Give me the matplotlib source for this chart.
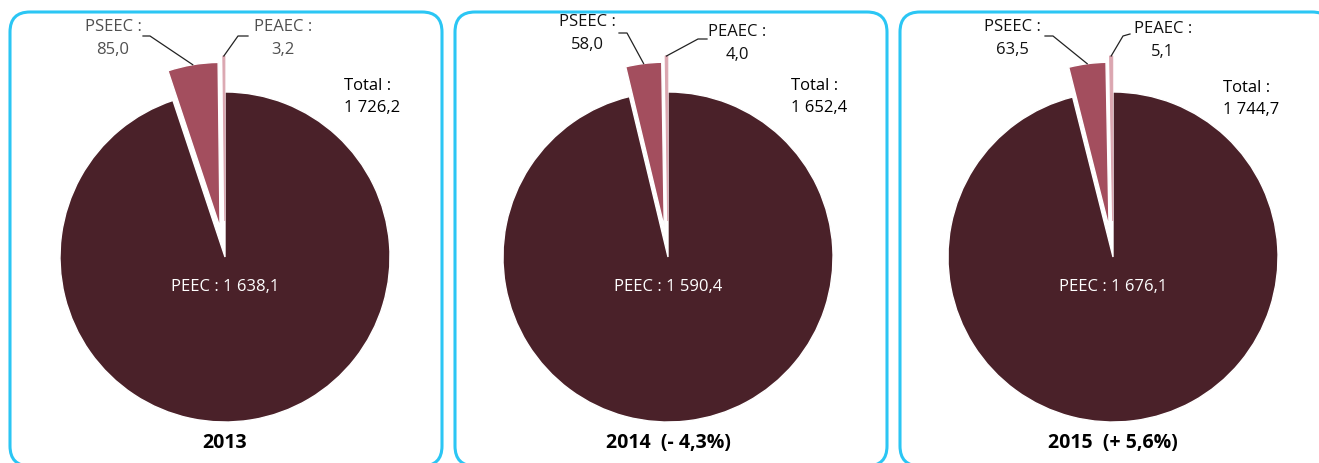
import numpy as np
import matplotlib
matplotlib.use("Agg")
import matplotlib.pyplot as plt
from matplotlib.patches import FancyBboxPatch

# Programme expenditure by year (millions)
years = ["2013", "2014", "2015"]
peec = [1638.1, 1590.4, 1676.1]
pseec = [85.0, 58.0, 63.5]
peaec = [3.2, 4.0, 5.1]
totals = [1726.2, 1652.4, 1744.7]
changes = [None, -4.3, 5.6]

colors = ["#4A2129", "#A34E5E", "#DBA6B0"]
border_color = "#2BC6F4"

W, H = 1319, 463
fig = plt.figure(figsize=(W / 100, H / 100), dpi=100)
ax = fig.add_axes([0, 0, 1, 1])


def Y(y):
    return H - y


def fr(v):
    return f"{v:,.1f}".replace(",", " ").replace(".", ",")


FONT = ["Open Sans", "DejaVu Sans"]
FS = 12
FW = "medium"

# layout of each panel: frame left/right, pie centre, label anchors
panels = [
    dict(x0=10, x1=442, cx=225, cy=257,
         ps_lab=(113, 27), pa_lab=(283, 27), tot=(344, 86),
         ps_knee=[(143, 36), (150, 36)], pa_knee=[(248, 36), (238, 36)],
         lab_color="#505050"),
    dict(x0=455, x1=887, cx=668, cy=257,
         ps_lab=(587, 22), pa_lab=(737, 32), tot=(791, 86),
         ps_knee=[(619, 33), (627, 33)], pa_knee=[(707, 39), (698, 39)],
         lab_color="#111111"),
    dict(x0=900, x1=1332, cx=1113, cy=257,
         ps_lab=(1012, 27), pa_lab=(1163, 29), tot=(1223, 88),
         ps_knee=[(1045, 36), (1053, 36)], pa_knee=[(1130, 34), (1123, 36)],
         lab_color="#111111"),
]

R = 165
for i, p in enumerate(panels):
    box = FancyBboxPatch((p["x0"], Y(466)), p["x1"] - p["x0"], 466 - 12,
                         boxstyle="round,pad=0,rounding_size=20",
                         facecolor="white", edgecolor=border_color,
                         linewidth=2.2, zorder=0)
    ax.add_patch(box)

    vals = [peec[i], pseec[i], peaec[i]]
    wedges, _ = ax.pie(vals, explode=[0, 30, 36], colors=colors,
                       startangle=90, counterclock=False,
                       center=(p["cx"], Y(p["cy"])), radius=R, frame=True,
                       wedgeprops=dict(edgecolor="white", linewidth=1.0))
    for w in wedges:
        w.set_zorder(2)
    # keep the thin slice visible
    wedges[2].set_edgecolor(colors[2])
    wedges[2].set_linewidth(0.8)
    wedges[2].set_zorder(2.5)

    # leader lines from the outer arc of the small slices to their labels
    for w, knee in ((wedges[1], p["ps_knee"]), (wedges[2], p["pa_knee"])):
        tm = np.deg2rad((w.theta1 + w.theta2) / 2)
        ex = w.center[0] + w.r * np.cos(tm)
        ey = w.center[1] + w.r * np.sin(tm)
        xs = [knee[0][0], knee[1][0], ex]
        ys = [Y(knee[0][1]), Y(knee[1][1]), ey]
        ax.plot(xs, ys, color="#222222", lw=0.9, zorder=3)

    lc = p["lab_color"]
    kw = dict(fontsize=FS, fontweight=FW, family=FONT, va="center")
    ax.text(p["ps_lab"][0], Y(p["ps_lab"][1]), "PSEEC :", ha="center",
            color=lc, **kw)
    ax.text(p["ps_lab"][0], Y(p["ps_lab"][1] + 23), fr(pseec[i]),
            ha="center", color=lc, **kw)
    ax.text(p["pa_lab"][0], Y(p["pa_lab"][1]), "PEAEC :", ha="center",
            color=lc, **kw)
    ax.text(p["pa_lab"][0], Y(p["pa_lab"][1] + 23), fr(peaec[i]),
            ha="center", color=lc, **kw)

    ax.text(p["tot"][0], Y(p["tot"][1]), "Total :", ha="left",
            color="black", **kw)
    ax.text(p["tot"][0], Y(p["tot"][1] + 22), fr(totals[i]), ha="left",
            color="black", **kw)

    ax.text(p["cx"], Y(p["cy"] + 30), f"PEEC : {fr(peec[i])}", ha="center",
            color="white", zorder=4, **kw)

    label = years[i]
    if changes[i] is not None:
        sign = "+" if changes[i] > 0 else "-"
        label += f"  ({sign} {fr(abs(changes[i]))}%)"
    ax.text(p["cx"], Y(443), label, ha="center", va="center", fontsize=14,
            fontweight="bold", color="black", family=FONT)

ax.set_xlim(0, W)
ax.set_ylim(0, H)
ax.set_aspect("auto")
ax.axis("off")

fig.savefig("out.png", dpi=100, facecolor="white")
